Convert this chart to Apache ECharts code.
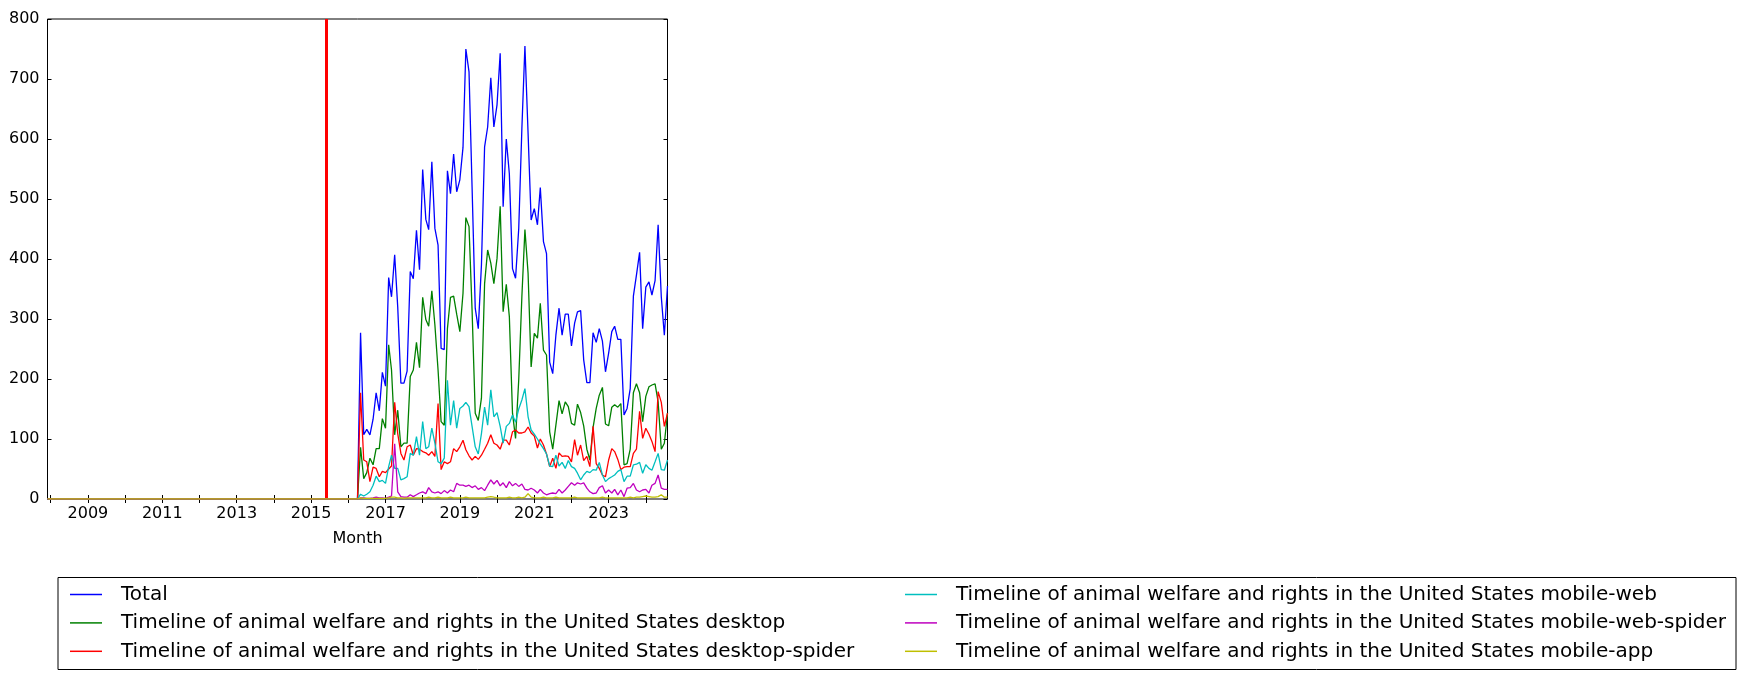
<!DOCTYPE html>
<html>
<head>
<meta charset="utf-8">
<script src="https://cdn.jsdelivr.net/npm/echarts@6/dist/echarts.min.js"></script>
<style>
html,body{margin:0;padding:0;background:#fff;}
#chart{width:1746px;height:679px;}
</style>
</head>
<body>
<div id="chart"></div>
<script>
// Monthly data, 2007-12 .. 2024-08
const startMonth = '2007-12';
const endMonth = '2024-08';
const markerMonth = '2015-06-01';
const yearTickLabels = ['2009','2011','2013','2015','2017','2019','2021','2023'];
const yearTicks = ['2008','2009','2010','2011','2012','2013','2014','2015','2016','2017','2018','2019','2020','2021','2022','2023','2024'];
const yTicks = [0,100,200,300,400,500,600,700,800];

const seriesNames = [
  'Total',
  'Timeline of animal welfare and rights in the United States desktop',
  'Timeline of animal welfare and rights in the United States desktop-spider',
  'Timeline of animal welfare and rights in the United States mobile-web',
  'Timeline of animal welfare and rights in the United States mobile-web-spider',
  'Timeline of animal welfare and rights in the United States mobile-app'
];

// 2007-12 .. 2016-04 : 101 months, all zero
const total = [
0,0,0,0,0,0,0,0,0,0, 0,0,0,0,0,0,0,0,0,0, 0,0,0,0,0,0,0,0,0,0, 0,0,0,0,0,0,0,0,0,0, 0,0,0,0,0,0,0,0,0,0,
0,0,0,0,0,0,0,0,0,0, 0,0,0,0,0,0,0,0,0,0, 0,0,0,0,0,0,0,0,0,0, 0,0,0,0,0,0,0,0,0,0, 0,0,0,0,0,0,0,0,0,0, 0,
277,107,116,107,133,177,147,211,188,369,
337,407,320,193,193,213,379,367,448,382,
549,466,449,562,451,423,251,249,547,509,
575,512,532,586,750,712,520,318,284,390,
587,620,702,620,657,743,487,600,542,384,
368,450,617,755,609,465,484,457,519,429,
409,228,209,273,318,273,308,308,255,293,
312,314,232,194,194,277,261,284,263,212,
243,279,288,266,266,140,151,184,338,373,
411,284,353,362,340,364,457,337,273,355];

const desktop = [
0,0,0,0,0,0,0,0,0,0, 0,0,0,0,0,0,0,0,0,0, 0,0,0,0,0,0,0,0,0,0, 0,0,0,0,0,0,0,0,0,0, 0,0,0,0,0,0,0,0,0,0,
0,0,0,0,0,0,0,0,0,0, 0,0,0,0,0,0,0,0,0,0, 0,0,0,0,0,0,0,0,0,0, 0,0,0,0,0,0,0,0,0,0, 0,0,0,0,0,0,0,0,0,0, 0,
86,34,44,68,57,84,84,134,118,257,
215,107,148,87,93,93,204,215,261,219,
336,299,288,347,290,215,129,123,284,336,
338,308,279,343,469,454,315,143,131,168,
359,415,393,359,401,488,312,358,304,143,
101,198,337,449,376,220,276,268,326,248,
240,112,83,123,164,142,162,154,126,123,
158,144,122,83,65,119,151,173,186,125,
122,153,157,153,159,57,59,83,177,192,
177,129,171,187,190,192,162,83,93,143];

const desktopSpider = [
0,0,0,0,0,0,0,0,0,0, 0,0,0,0,0,0,0,0,0,0, 0,0,0,0,0,0,0,0,0,0, 0,0,0,0,0,0,0,0,0,0, 0,0,0,0,0,0,0,0,0,0,
0,0,0,0,0,0,0,0,0,0, 0,0,0,0,0,0,0,0,0,0, 0,0,0,0,0,0,0,0,0,0, 0,0,0,0,0,0,0,0,0,0, 0,0,0,0,0,0,0,0,0,0, 0,
177,65,62,29,53,51,37,46,44,50,
55,161,109,76,65,87,90,73,84,83,
79,77,73,79,71,159,49,62,59,62,
84,79,87,98,82,72,65,71,66,73,
83,93,107,93,90,83,98,98,90,112,
115,110,110,112,120,110,105,85,100,90,
75,54,68,51,77,71,72,71,62,99,
73,90,64,71,54,121,59,51,40,37,
65,84,79,66,49,53,54,54,76,83,
146,101,118,108,96,79,179,161,121,143];

const mobileWeb = [
0,0,0,0,0,0,0,0,0,0, 0,0,0,0,0,0,0,0,0,0, 0,0,0,0,0,0,0,0,0,0, 0,0,0,0,0,0,0,0,0,0, 0,0,0,0,0,0,0,0,0,0,
0,0,0,0,0,0,0,0,0,0, 0,0,0,0,0,0,0,0,0,0, 0,0,0,0,0,0,0,0,0,0, 0,0,0,0,0,0,0,0,0,0, 0,0,0,0,0,0,0,0,0,0, 0,
8,5,8,12,23,38,29,31,26,54,
73,51,51,32,34,37,76,73,104,73,
129,84,87,118,93,62,59,68,198,123,
164,118,151,155,161,154,121,87,75,109,
153,123,182,137,144,121,93,121,126,140,
128,150,165,184,137,115,108,100,92,84,
75,55,54,73,55,61,51,64,54,51,
43,32,40,46,44,49,48,61,40,29,
34,37,40,46,49,29,38,38,57,58,
61,43,57,51,48,62,76,49,48,65];

const mobileWebSpider = [
0,0,0,0,0,0,0,0,0,0, 0,0,0,0,0,0,0,0,0,0, 0,0,0,0,0,0,0,0,0,0, 0,0,0,0,0,0,0,0,0,0, 0,0,0,0,0,0,0,0,0,0,
0,0,0,0,0,0,0,0,0,0, 0,0,0,0,0,0,0,0,0,0, 0,0,0,0,0,0,0,0,0,0, 0,0,0,0,0,0,0,0,0,0, 0,0,0,0,0,0,0,0,0,0, 0,
2,2,1,1,2,3,2,2,1,3,
5,92,12,4,3,3,7,4,7,10,
12,9,19,12,10,12,9,14,10,15,
12,26,23,23,21,23,19,22,16,19,
14,23,32,25,31,22,27,19,29,22,
26,21,25,16,15,18,15,10,16,10,
7,9,10,9,16,10,15,21,27,23,
27,25,27,18,12,9,10,19,22,10,
15,10,16,7,15,4,18,19,26,15,
12,15,16,10,23,26,40,18,16,16];

const mobileApp = [
0,0,0,0,0,0,0,0,0,0, 0,0,0,0,0,0,0,0,0,0, 0,0,0,0,0,0,0,0,0,0, 0,0,0,0,0,0,0,0,0,0, 0,0,0,0,0,0,0,0,0,0,
0,0,0,0,0,0,0,0,0,0, 0,0,0,0,0,0,0,0,0,0, 0,0,0,0,0,0,0,0,0,0, 0,0,0,0,0,0,0,0,0,0, 0,0,0,0,0,0,0,0,0,0, 0,
2,1,1,1,1,1,1,1,1,2,
3,3,2,2,1,2,2,2,2,2,
2,2,3,2,2,3,2,2,2,3,
2,2,2,2,3,2,2,2,2,2,
2,3,4,3,2,2,2,2,3,2,
2,3,2,3,9,3,2,2,2,3,
2,2,2,3,2,2,2,2,2,3,
2,2,2,2,2,2,2,2,3,2,
2,2,2,2,2,2,2,3,2,3,
3,4,5,4,3,3,4,7,3,3];

const colors = ['#0000ff','#008000','#ff0000','#00bfbf','#bf00bf','#bfbf00'];
const seriesValues = [total, desktop, desktopSpider, mobileWeb, mobileWebSpider, mobileApp];

// month category labels
function buildMonths(a, b){
  const out = [];
  let [y, m] = a.split('-').map(Number);
  const [ye, me] = b.split('-').map(Number);
  while (y < ye || (y === ye && m <= me)) {
    out.push(y + '-' + String(m).padStart(2,'0') + '-01');
    m++; if (m > 12) { m = 1; y++; }
  }
  return out;
}
const months = buildMonths(startMonth, endMonth);
const ts = s => Date.parse((s.length === 4 ? s + '-01-01' : (s.length === 7 ? s + '-01' : s)) + 'T00:00:00Z');

const FONT = 'DejaVu Sans';
const chart = echarts.init(document.getElementById('chart'), null, {renderer:'canvas'});

const series = seriesValues.map((vals, k) => ({
  name: seriesNames[k],
  type: 'line',
  data: months.map((d, i) => [ts(d), vals[i]]),
  showSymbol: false,
  symbol: 'none',
  lineStyle: {color: colors[k], width: 1.3},
  itemStyle: {color: colors[k]},
  z: 2 + k,
  animation: false
}));
series[0].markLine = {
  silent: true,
  symbol: ['none','none'],
  label: {show: false},
  lineStyle: {color: '#ff0000', width: 3, type: 'solid'},
  data: [{xAxis: ts(markerMonth)}],
  animation: false
};

const xCommon = {
  type: 'value',
  min: ts(startMonth),
  max: ts(endMonth),
  splitLine: {show: false},
  axisLine: {show: false},
};

const legendCommon = {
  orient: 'vertical',
  align: 'left',
  top: 583.5,
  itemWidth: 32,
  itemHeight: 1.5,
  itemGap: 6.4,
  icon: 'rect',
  padding: 0,
  textStyle: {fontFamily: FONT, fontSize: 20, color: '#000', lineHeight: 22, padding: [0,0,0,14]},
  selectedMode: false
};

chart.setOption({
  animation: false,
  backgroundColor: '#fff',
  color: colors,
  grid: {left: 47.5, right: 1746 - 667.5, top: 19, bottom: 679 - 499, show: true, borderColor: '#000', borderWidth: 1, backgroundColor: 'transparent'},
  xAxis: [
    Object.assign({}, xCommon, {
      position: 'bottom',
      name: 'Month',
      nameLocation: 'middle',
      nameGap: 32,
      nameTextStyle: {fontFamily: FONT, fontSize: 16, color: '#000'},
      axisTick: {show: true, inside: true, length: 4, lineStyle: {color: '#000'}, customValues: yearTicks.map(ts)},
      axisLabel: {show: true, margin: 7, fontFamily: FONT, fontSize: 16, color: '#000',
        customValues: yearTickLabels.map(ts),
        formatter: v => String(new Date(v).getUTCFullYear())}
    }),
    Object.assign({}, xCommon, {
      position: 'top',
      axisTick: {show: true, inside: true, length: 4, lineStyle: {color: '#000'}, customValues: yearTicks.map(ts)},
      axisLabel: {show: false}
    })
  ],
  yAxis: [
    {
      type: 'value', min: 0, max: 800, interval: 100, position: 'left',
      axisLine: {show: false}, splitLine: {show: false},
      axisTick: {show: true, inside: true, length: 4, lineStyle: {color: '#000'}},
      axisLabel: {margin: 8, fontFamily: FONT, fontSize: 16, color: '#000'}
    },
    {
      type: 'value', min: 0, max: 800, interval: 100, position: 'right',
      axisLine: {show: false}, splitLine: {show: false},
      axisTick: {show: true, inside: true, length: 4, lineStyle: {color: '#000'}},
      axisLabel: {show: false}
    }
  ],
  legend: [
    Object.assign({}, legendCommon, {left: 70, data: seriesNames.slice(0,3)}),
    Object.assign({}, legendCommon, {left: 905, data: seriesNames.slice(3,6)})
  ],
  graphic: [{
    type: 'rect', left: 57.5, top: 577, z: 0, silent: true,
    shape: {width: 1678, height: 92},
    style: {fill: '#fff', stroke: '#000', lineWidth: 1}
  }],
  series: series
});
</script>
</body>
</html>
